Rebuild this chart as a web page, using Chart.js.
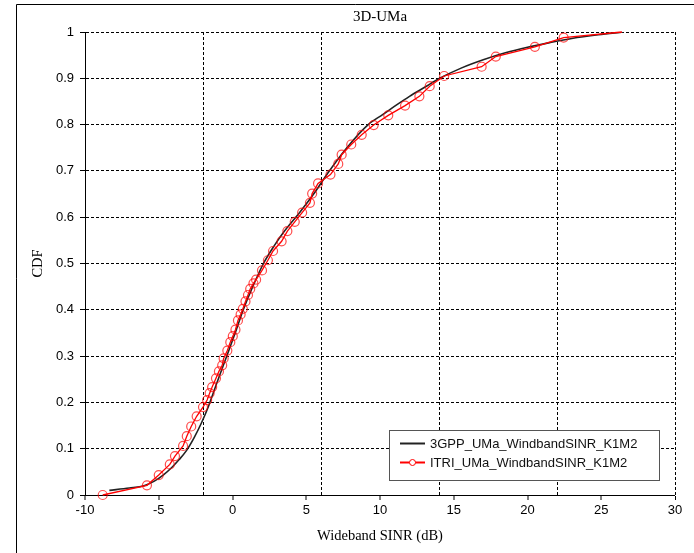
<!DOCTYPE html>
<html lang="en">
<head>
    <meta charset="UTF-8">
    <title>3D-UMa</title>
    <script src="https://cdn.jsdelivr.net/npm/chart.js"></script>
    <style type="text/css">
        body {
            margin: 0;
            background: #fff;
        }
    </style>
</head>
<body>
<canvas id="myChart" width="694" height="553"></canvas>

<script>
  // 3GPP reference curve (smooth, no markers)
  var gppSinr = [-8.35, -7.0, -6.0, -5.3, -4.7, -4.1, -3.6, -3.1, -2.6, -2.1, -1.6, -1.05, -0.45, 0.15, 0.73,
    1.4, 2.1, 2.8, 3.5, 4.5, 5.5, 6.5, 7.7, 9.2, 10.2, 11.1, 12.0, 13.0, 14.05, 15.5, 17.0, 18.5, 20.0, 21.5, 23.0, 24.8, 26.5];
  var gppCdf = [0.01, 0.015, 0.02, 0.03, 0.043, 0.06, 0.077, 0.097, 0.124, 0.156, 0.194, 0.243, 0.295, 0.347, 0.4,
    0.452, 0.5, 0.537, 0.569, 0.608, 0.65, 0.697, 0.748, 0.8, 0.822, 0.842, 0.861, 0.88, 0.9, 0.922, 0.94, 0.955, 0.967,
    0.977, 0.986, 0.994, 1.0];

  // ITRI curve (markers)
  var itriSinr = [-8.8, -5.8, -5.0, -4.25, -3.9, -3.35, -3.1, -2.8, -2.43, -2.0, -1.72, -1.55, -1.38, -1.12, -0.92,
    -0.7, -0.6, -0.35, -0.15, 0.02, 0.2, 0.37, 0.55, 0.7, 0.88, 1.05, 1.2, 1.42, 1.6, 2.0, 2.4, 2.75, 3.33, 3.72,
    4.22, 4.72, 5.25, 5.4, 5.8, 6.64, 7.17, 7.4, 8.05, 8.76, 9.57, 10.56, 11.7, 12.67, 13.37, 14.35, 16.89, 17.85,
    20.5, 22.45, 26.4];
  var itriCdf = [0.0, 0.021, 0.043, 0.066, 0.084, 0.106, 0.127, 0.148, 0.17, 0.19, 0.205, 0.22, 0.233, 0.252, 0.267,
    0.28, 0.295, 0.312, 0.33, 0.343, 0.357, 0.377, 0.39, 0.402, 0.418, 0.432, 0.445, 0.457, 0.465, 0.485, 0.507, 0.527,
    0.548, 0.57, 0.59, 0.61, 0.631, 0.651, 0.673, 0.692, 0.715, 0.735, 0.757, 0.778, 0.799, 0.82, 0.841, 0.861, 0.883,
    0.905, 0.925, 0.947, 0.968, 0.988, 1.0];

  var seriesNames = ['3GPP_UMa_WindbandSINR_K1M2', 'ITRI_UMa_WindbandSINR_K1M2'];
  var xGridLines = [-2, 6, 14, 22, 30];

  function toPoints(xs, ys) {
    var pts = [];
    for (var i = 0; i < xs.length; i++) {
      pts.push({x: xs[i], y: ys[i]});
    }
    return pts;
  }

  Chart.defaults.font.family = "'Liberation Sans', Arial, sans-serif";
  Chart.defaults.font.size = 13;
  Chart.defaults.color = '#000';

  // frame, title and legend box drawn by hand
  var decorPlugin = {
    id: 'decor',
    beforeDraw: function (chart) {
      var c = chart.ctx;
      c.save();
      c.fillStyle = '#fff';
      c.fillRect(0, 0, chart.width, chart.height);
      c.strokeStyle = '#000';
      c.lineWidth = 1;
      c.beginPath();
      c.moveTo(16.5, chart.height);
      c.lineTo(16.5, 4.5);
      c.lineTo(chart.width, 4.5);
      c.stroke();
      c.restore();
    },
    afterDraw: function (chart) {
      var c = chart.ctx;
      var area = chart.chartArea;
      c.save();
      c.fillStyle = '#000';
      c.font = "15px 'Liberation Serif', 'Times New Roman', serif";
      c.textAlign = 'center';
      c.textBaseline = 'middle';
      c.fillText('3D-UMa', (area.left + area.right) / 2, 17);

      // legend
      var bx = 389.5, by = 430.5, bw = 270, bh = 50;
      c.fillStyle = '#fff';
      c.fillRect(bx, by, bw, bh);
      c.strokeStyle = '#555';
      c.lineWidth = 1;
      c.strokeRect(bx, by, bw, bh);

      var rows = [443.5, 462.5];
      var ds = chart.data.datasets;
      for (var i = 0; i < ds.length; i++) {
        c.strokeStyle = ds[i].borderColor;
        c.lineWidth = 2;
        c.beginPath();
        c.moveTo(400, rows[i]);
        c.lineTo(425, rows[i]);
        c.stroke();
        if (i === 1) {
          c.lineWidth = 1;
          c.fillStyle = '#fff';
          c.beginPath();
          c.arc(412.5, rows[i], 3, 0, Math.PI * 2);
          c.fill();
          c.stroke();
        }
        c.fillStyle = '#111';
        c.font = "13px 'Liberation Sans', Arial, sans-serif";
        c.textAlign = 'left';
        c.fillText(seriesNames[i], 430, rows[i] + 1);
      }
      c.restore();
    }
  };

  var itriRadius = itriSinr.map(function (v, i) {
    return i === itriSinr.length - 1 ? 0 : 4.5;
  });

  var ctx = document.getElementById('myChart').getContext('2d');
  var myChart = new Chart(ctx, {
    type: 'line',
    data: {
      datasets: [{
        label: seriesNames[0],
        data: toPoints(gppSinr, gppCdf),
        borderColor: '#222',
        borderWidth: 1.6,
        pointRadius: 0,
        cubicInterpolationMode: 'monotone',
        order: 1
      }, {
        label: seriesNames[1],
        data: toPoints(itriSinr, itriCdf),
        borderColor: '#ff0000',
        borderWidth: 1.3,
        pointRadius: itriRadius,
        pointBorderColor: 'rgba(255, 0, 0, 0.7)',
        pointBackgroundColor: 'rgba(0, 0, 0, 0)',
        pointBorderWidth: 1.2,
        tension: 0,
        clip: false,
        order: 0
      }]
    },
    options: {
      responsive: false,
      animation: false,
      layout: {
        padding: {top: 32, right: 19, left: 0, bottom: 0}
      },
      plugins: {
        legend: {display: false},
        tooltip: {enabled: false}
      },
      scales: {
        x: {
          type: 'linear',
          min: -10,
          max: 30,
          afterFit: function (axis) {
            axis.height = 58;
          },
          ticks: {
            stepSize: 1,
            autoSkip: false,
            maxRotation: 0,
            padding: 3,
            callback: function (v) {
              return v % 5 === 0 ? v : '';
            }
          },
          grid: {
            color: '#000',
            lineWidth: function (c) {
              return c.tick && xGridLines.indexOf(c.tick.value) >= 0 ? 1 : 0;
            },
            tickWidth: function (c) {
              return c.tick && c.tick.value % 5 === 0 ? 1 : 0;
            },
            tickColor: '#000',
            tickLength: 5
          },
          border: {display: true, color: '#000', width: 1, dash: [3, 2]},
          title: {
            display: true,
            text: 'Wideband SINR (dB)',
            font: {family: "'Liberation Serif', 'Times New Roman', serif", size: 14.5},
            padding: {top: 0, bottom: 8}
          }
        },
        y: {
          min: 0,
          max: 1,
          afterFit: function (axis) {
            axis.width = 85;
          },
          ticks: {
            stepSize: 0.1,
            padding: 6,
            callback: function (v) {
              return +v.toFixed(1);
            }
          },
          grid: {
            color: '#000',
            lineWidth: 1,
            tickColor: '#000',
            tickLength: 5
          },
          border: {display: true, color: '#000', width: 1, dash: [3, 2]},
          title: {
            display: true,
            text: 'CDF',
            font: {family: "'Liberation Serif', 'Times New Roman', serif", size: 14.5},
            padding: {top: 29, bottom: 0}
          }
        }
      }
    },
    plugins: [decorPlugin]
  });
</script>
</body>
</html>
